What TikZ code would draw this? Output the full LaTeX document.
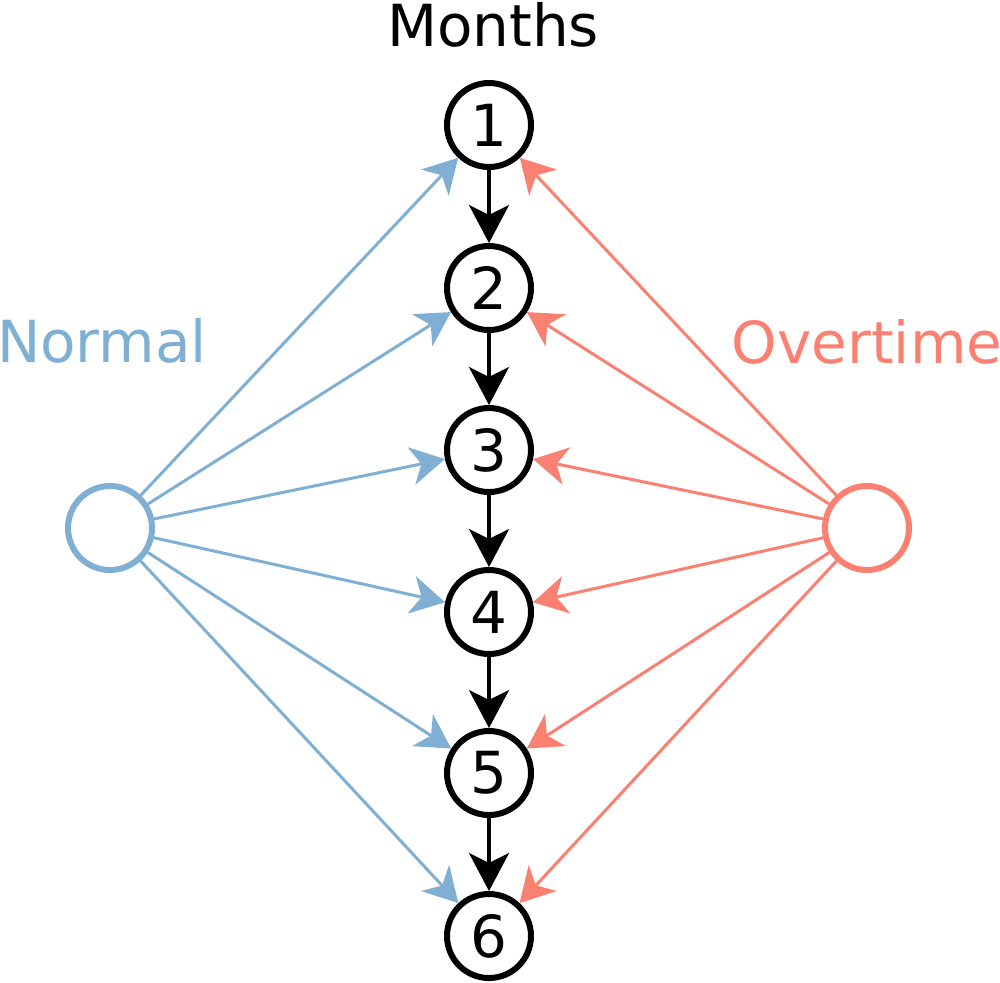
\documentclass[tikz,border=0pt]{standalone}
\usepackage{fontspec}
\setmainfont{DejaVu Sans}
\usetikzlibrary{arrows.meta}

\definecolor{normalblue}{RGB}{127,176,211}
\definecolor{overtimered}{RGB}{250,128,114}

\tikzset{every picture/.style={line width=0.75pt}}
\tikzset{
  month/.style={draw=black, line width=3pt, circle, fill=white, minimum size=42pt, inner sep=0pt, font=\fontsize{29}{34}\selectfont},
  source/.style={draw=#1, line width=3pt, circle, minimum size=42pt, inner sep=0pt},
  flow/.style={draw=black, line width=2pt, -{Stealth[length=19pt,width=20pt,inset=5pt]}},
  supply/.style={draw=#1, line width=1.5pt, -{Stealth[length=17pt,width=19pt,inset=5pt]}},
  caption/.style={inner sep=0pt, text=#1, font=\fontsize{29}{34}\selectfont}
}

\begin{document}
\begin{tikzpicture}[x=0.5pt,y=0.5pt,yscale=-1,xscale=1]
\useasboundingbox (0,0) rectangle (1000,982);

%Shape: Circle [months]
\node [month] (m1) at (489,125) {1};
\node [month] (m2) at (489,288) {2};
\node [month] (m3) at (489,450) {3};
\node [month] (m4) at (489,612) {4};
\node [month] (m5) at (489,773) {5};
\node [month] (m6) at (489,936) {6};
%Shape: Circle [sources]
\node [source=normalblue] (normal) at (110,528) {};
\node [source=overtimered] (overtime) at (867,528) {};

% Text Node
\node [caption=black] (lblmonths) at (493,25) {Months};
% Text Node
\node [caption=normalblue] (lblnormal) at (102,341) {Normal};
% Text Node
\node [caption=overtimered] (lblovertime) at (867,342) {Overtime};

%Straight Lines [month to month]
\draw [flow] (m1) -- (m2);
\draw [flow] (m2) -- (m3);
\draw [flow] (m3) -- (m4);
\draw [flow] (m4) -- (m5);
\draw [flow] (m5) -- (m6);

%Straight Lines [normal production]
\draw [supply=normalblue] (normal) -- (m1);
\draw [supply=normalblue] (normal) -- (m2);
\draw [supply=normalblue] (normal) -- (m3);
\draw [supply=normalblue] (normal) -- (m4);
\draw [supply=normalblue] (normal) -- (m5);
\draw [supply=normalblue] (normal) -- (m6);

%Straight Lines [overtime production]
\draw [supply=overtimered] (overtime) -- (m1);
\draw [supply=overtimered] (overtime) -- (m2);
\draw [supply=overtimered] (overtime) -- (m3);
\draw [supply=overtimered] (overtime) -- (m4);
\draw [supply=overtimered] (overtime) -- (m5);
\draw [supply=overtimered] (overtime) -- (m6);

\end{tikzpicture}
\end{document}
